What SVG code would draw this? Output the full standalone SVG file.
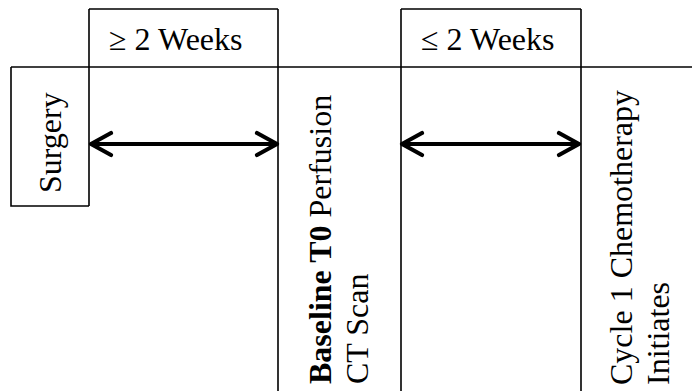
<svg xmlns="http://www.w3.org/2000/svg" width="692" height="391" viewBox="0 0 692 391">
  <defs>
    <style>
      .grid { stroke: #000; stroke-width: 1.6; fill: none; }
      .lbl { font-family: 'Liberation Serif', 'Times New Roman', serif; font-size: 32px; fill: #000; }
      .b { font-weight: bold; }
      .arrow { stroke: #000; stroke-width: 4.2; fill: none; stroke-linecap: round; stroke-linejoin: round; }
    </style>
  </defs>
  <rect width="692" height="391" fill="#fff"/>

  <!-- timeline table rules -->
  <g id="grid" class="grid">
    <path d="M11,67 H692"/>
    <path d="M89,9 H278 M401,9 H581"/>
    <path d="M89,9 V206 M278,9 V391 M401,9 V391 M581,9 V391"/>
    <path d="M11,67 V206 H89"/>
  </g>

  <g id="surgery">
    <text class="lbl" transform="translate(61,193) rotate(-90)">Surgery</text>
  </g>

  <g id="gap-before-baseline">
    <text class="lbl" x="109" y="49.5">≥ 2 Weeks</text>
  </g>

  <g id="baseline-scan">
    <text class="lbl" transform="translate(330.5,384) rotate(-90)"><tspan class="b">Baseline T0</tspan> Perfusion</text>
    <text class="lbl" transform="translate(367.5,384) rotate(-90)">CT Scan</text>
  </g>

  <g id="gap-before-chemo">
    <text class="lbl" x="421" y="49.5">≤ 2 Weeks</text>
  </g>

  <g id="chemo-cycle-1">
    <text class="lbl" transform="translate(632,385) rotate(-90)">Cycle 1 Chemotherapy</text>
    <text class="lbl" transform="translate(668.5,385) rotate(-90)">Initiates</text>
  </g>

  <!-- double-headed interval arrows -->
  <g id="connectors" class="arrow">
    <path d="M91,144 H277 M111,133 L91,144 L111,155 M257,133 L277,144 L257,155"/>
    <path d="M402,144 H579 M422,133 L402,144 L422,155 M559,133 L579,144 L559,155"/>
  </g>
</svg>
